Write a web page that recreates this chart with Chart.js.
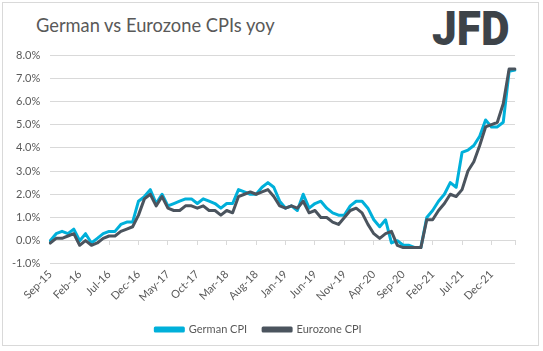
<!DOCTYPE html>
<html>
<head>
<meta charset="utf-8">
<script src="https://cdn.jsdelivr.net/npm/chart.js@4.4.1/dist/chart.umd.min.js"></script>
<style>
  html, body { margin: 0; padding: 0; background: #ffffff; }
  #wrap { position: relative; width: 543px; height: 351px; overflow: hidden; }
  #frame { position: absolute; left: 2px; top: 2px; width: 537px; height: 344px; border: 1px solid #d9d9d9; box-sizing: border-box; }
  #title { position: absolute; left: 36px; top: 14px; font-family: Lato, "Open Sans", sans-serif; font-size: 18.3px; color: #595959; white-space: nowrap; }
  #logo { position: absolute; left: 432px; top: 2px; font-family: Roboto, "DejaVu Sans", sans-serif; font-weight: 900; font-size: 49px; color: #3d4349; letter-spacing: 0px; transform-origin: 0 0; transform: scaleX(0.9); white-space: nowrap; line-height: 1.1; }
  canvas { position: absolute; left: 0; top: 0; }
</style>
</head>
<body>
<div id="wrap">
  <div id="frame"></div>
  <div id="title">German vs Eurozone CPIs yoy</div>
  <div id="logo">JFD</div>
  <canvas id="c" width="543" height="351"></canvas>
</div>
<script>
const months = [
  "Sep-15","Oct-15","Nov-15","Dec-15",
  "Jan-16","Feb-16","Mar-16","Apr-16","May-16","Jun-16","Jul-16","Aug-16","Sep-16","Oct-16","Nov-16","Dec-16",
  "Jan-17","Feb-17","Mar-17","Apr-17","May-17","Jun-17","Jul-17","Aug-17","Sep-17","Oct-17","Nov-17","Dec-17",
  "Jan-18","Feb-18","Mar-18","Apr-18","May-18","Jun-18","Jul-18","Aug-18","Sep-18","Oct-18","Nov-18","Dec-18",
  "Jan-19","Feb-19","Mar-19","Apr-19","May-19","Jun-19","Jul-19","Aug-19","Sep-19","Oct-19","Nov-19","Dec-19",
  "Jan-20","Feb-20","Mar-20","Apr-20","May-20","Jun-20","Jul-20","Aug-20","Sep-20","Oct-20","Nov-20","Dec-20",
  "Jan-21","Feb-21","Mar-21","Apr-21","May-21","Jun-21","Jul-21","Aug-21","Sep-21","Oct-21","Nov-21","Dec-21",
  "Jan-22","Feb-22","Mar-22","Apr-22"
];

const germanCPI = [
  0.0, 0.3, 0.4, 0.3,
  0.5, 0.0, 0.3, -0.1, 0.1, 0.3, 0.4, 0.4, 0.7, 0.8, 0.8, 1.7,
  1.9, 2.2, 1.6, 2.0, 1.5, 1.6, 1.7, 1.8, 1.8, 1.6, 1.8, 1.7,
  1.6, 1.4, 1.6, 1.6, 2.2, 2.1, 2.0, 2.0, 2.3, 2.5, 2.3, 1.7,
  1.4, 1.5, 1.3, 2.0, 1.4, 1.6, 1.7, 1.4, 1.2, 1.1, 1.1, 1.5,
  1.7, 1.7, 1.4, 0.9, 0.6, 0.9, -0.1, 0.0, -0.2, -0.2, -0.3, -0.3,
  1.0, 1.3, 1.7, 2.0, 2.5, 2.3, 3.8, 3.9, 4.1, 4.5, 5.2, 4.9,
  4.9, 5.1, 7.3, 7.35
];

const eurozoneCPI = [
  -0.1, 0.1, 0.1, 0.2,
  0.3, -0.2, 0.0, -0.2, -0.1, 0.1, 0.2, 0.2, 0.4, 0.5, 0.6, 1.1,
  1.8, 2.0, 1.5, 1.9, 1.4, 1.3, 1.3, 1.5, 1.5, 1.4, 1.5, 1.3,
  1.3, 1.1, 1.3, 1.2, 1.9, 2.0, 2.1, 2.0, 2.1, 2.2, 1.9, 1.5,
  1.4, 1.5, 1.4, 1.7, 1.2, 1.3, 1.0, 1.0, 0.8, 0.7, 1.0, 1.3,
  1.4, 1.2, 0.7, 0.3, 0.1, 0.3, 0.4, -0.2, -0.3, -0.3, -0.3, -0.3,
  0.9, 0.9, 1.3, 1.6, 2.0, 1.9, 2.2, 3.0, 3.4, 4.1, 4.9, 5.0,
  5.1, 5.9, 7.4, 7.4
];

const yMin = -1, yMax = 8, yStep = 1;
const labelEvery = 5;

const txt = '#595959';
const grid = '#d9d9d9';

Chart.defaults.font.family = 'Lato, "Open Sans", sans-serif';
Chart.defaults.font.size = 11;
Chart.defaults.color = txt;

new Chart(document.getElementById('c'), {
  type: 'line',
  data: {
    labels: months,
    datasets: [
      {
        label: 'German CPI',
        data: germanCPI,
        borderColor: '#00b0da',
        backgroundColor: '#00b0da',
        borderWidth: 3,
        pointRadius: 0,
        tension: 0,
        borderJoinStyle: 'round',
        borderCapStyle: 'round',
        order: 1
      },
      {
        label: 'Eurozone CPI',
        data: eurozoneCPI,
        borderColor: '#4b545e',
        backgroundColor: '#4b545e',
        borderWidth: 3,
        pointRadius: 0,
        tension: 0,
        borderJoinStyle: 'round',
        borderCapStyle: 'round',
        order: 0
      }
    ]
  },
  options: {
    responsive: false,
    animation: false,
    events: [],
    layout: { padding: { top: 55, left: 2, right: 28, bottom: 6 } },
    plugins: {
      title: { display: false },
      tooltip: { enabled: false },
      legend: {
        position: 'bottom',
        labels: {
          boxWidth: 28,
          boxHeight: 3,
          padding: 16,
          color: txt,
          font: { size: 11 },
          sort: function (a, b) { return a.datasetIndex - b.datasetIndex; }
        }
      }
    },
    scales: {
      x: {
        type: 'category',
        position: 'bottom',
        offset: false,
        grid: { display: false, drawTicks: false },
        border: { display: false },
        ticks: {
          autoSkip: false,
          maxRotation: 45,
          minRotation: 45,
          padding: 4,
          color: txt,
          callback: function (v, i) { return i % labelEvery === 0 ? months[i] : ''; }
        }
      },
      x0: {
        type: 'category',
        axis: 'x',
        position: { y: 0 },
        offset: false,
        ticks: { display: false, autoSkip: false },
        grid: {
          drawOnChartArea: false,
          drawTicks: true,
          tickLength: 4,
          tickColor: function (ctx) {
            return (ctx.index % labelEvery === 0 || ctx.index === months.length - 1) ? grid : 'rgba(0,0,0,0)';
          }
        },
        border: { display: true, color: grid, width: 1 }
      },
      y: {
        min: yMin,
        max: yMax,
        grid: { color: grid, drawTicks: false, lineWidth: 1 },
        border: { display: false },
        ticks: {
          stepSize: yStep,
          padding: 10,
          color: txt,
          callback: function (v) { return v.toFixed(1) + '%'; }
        }
      }
    }
  }
});
</script>
</body>
</html>
